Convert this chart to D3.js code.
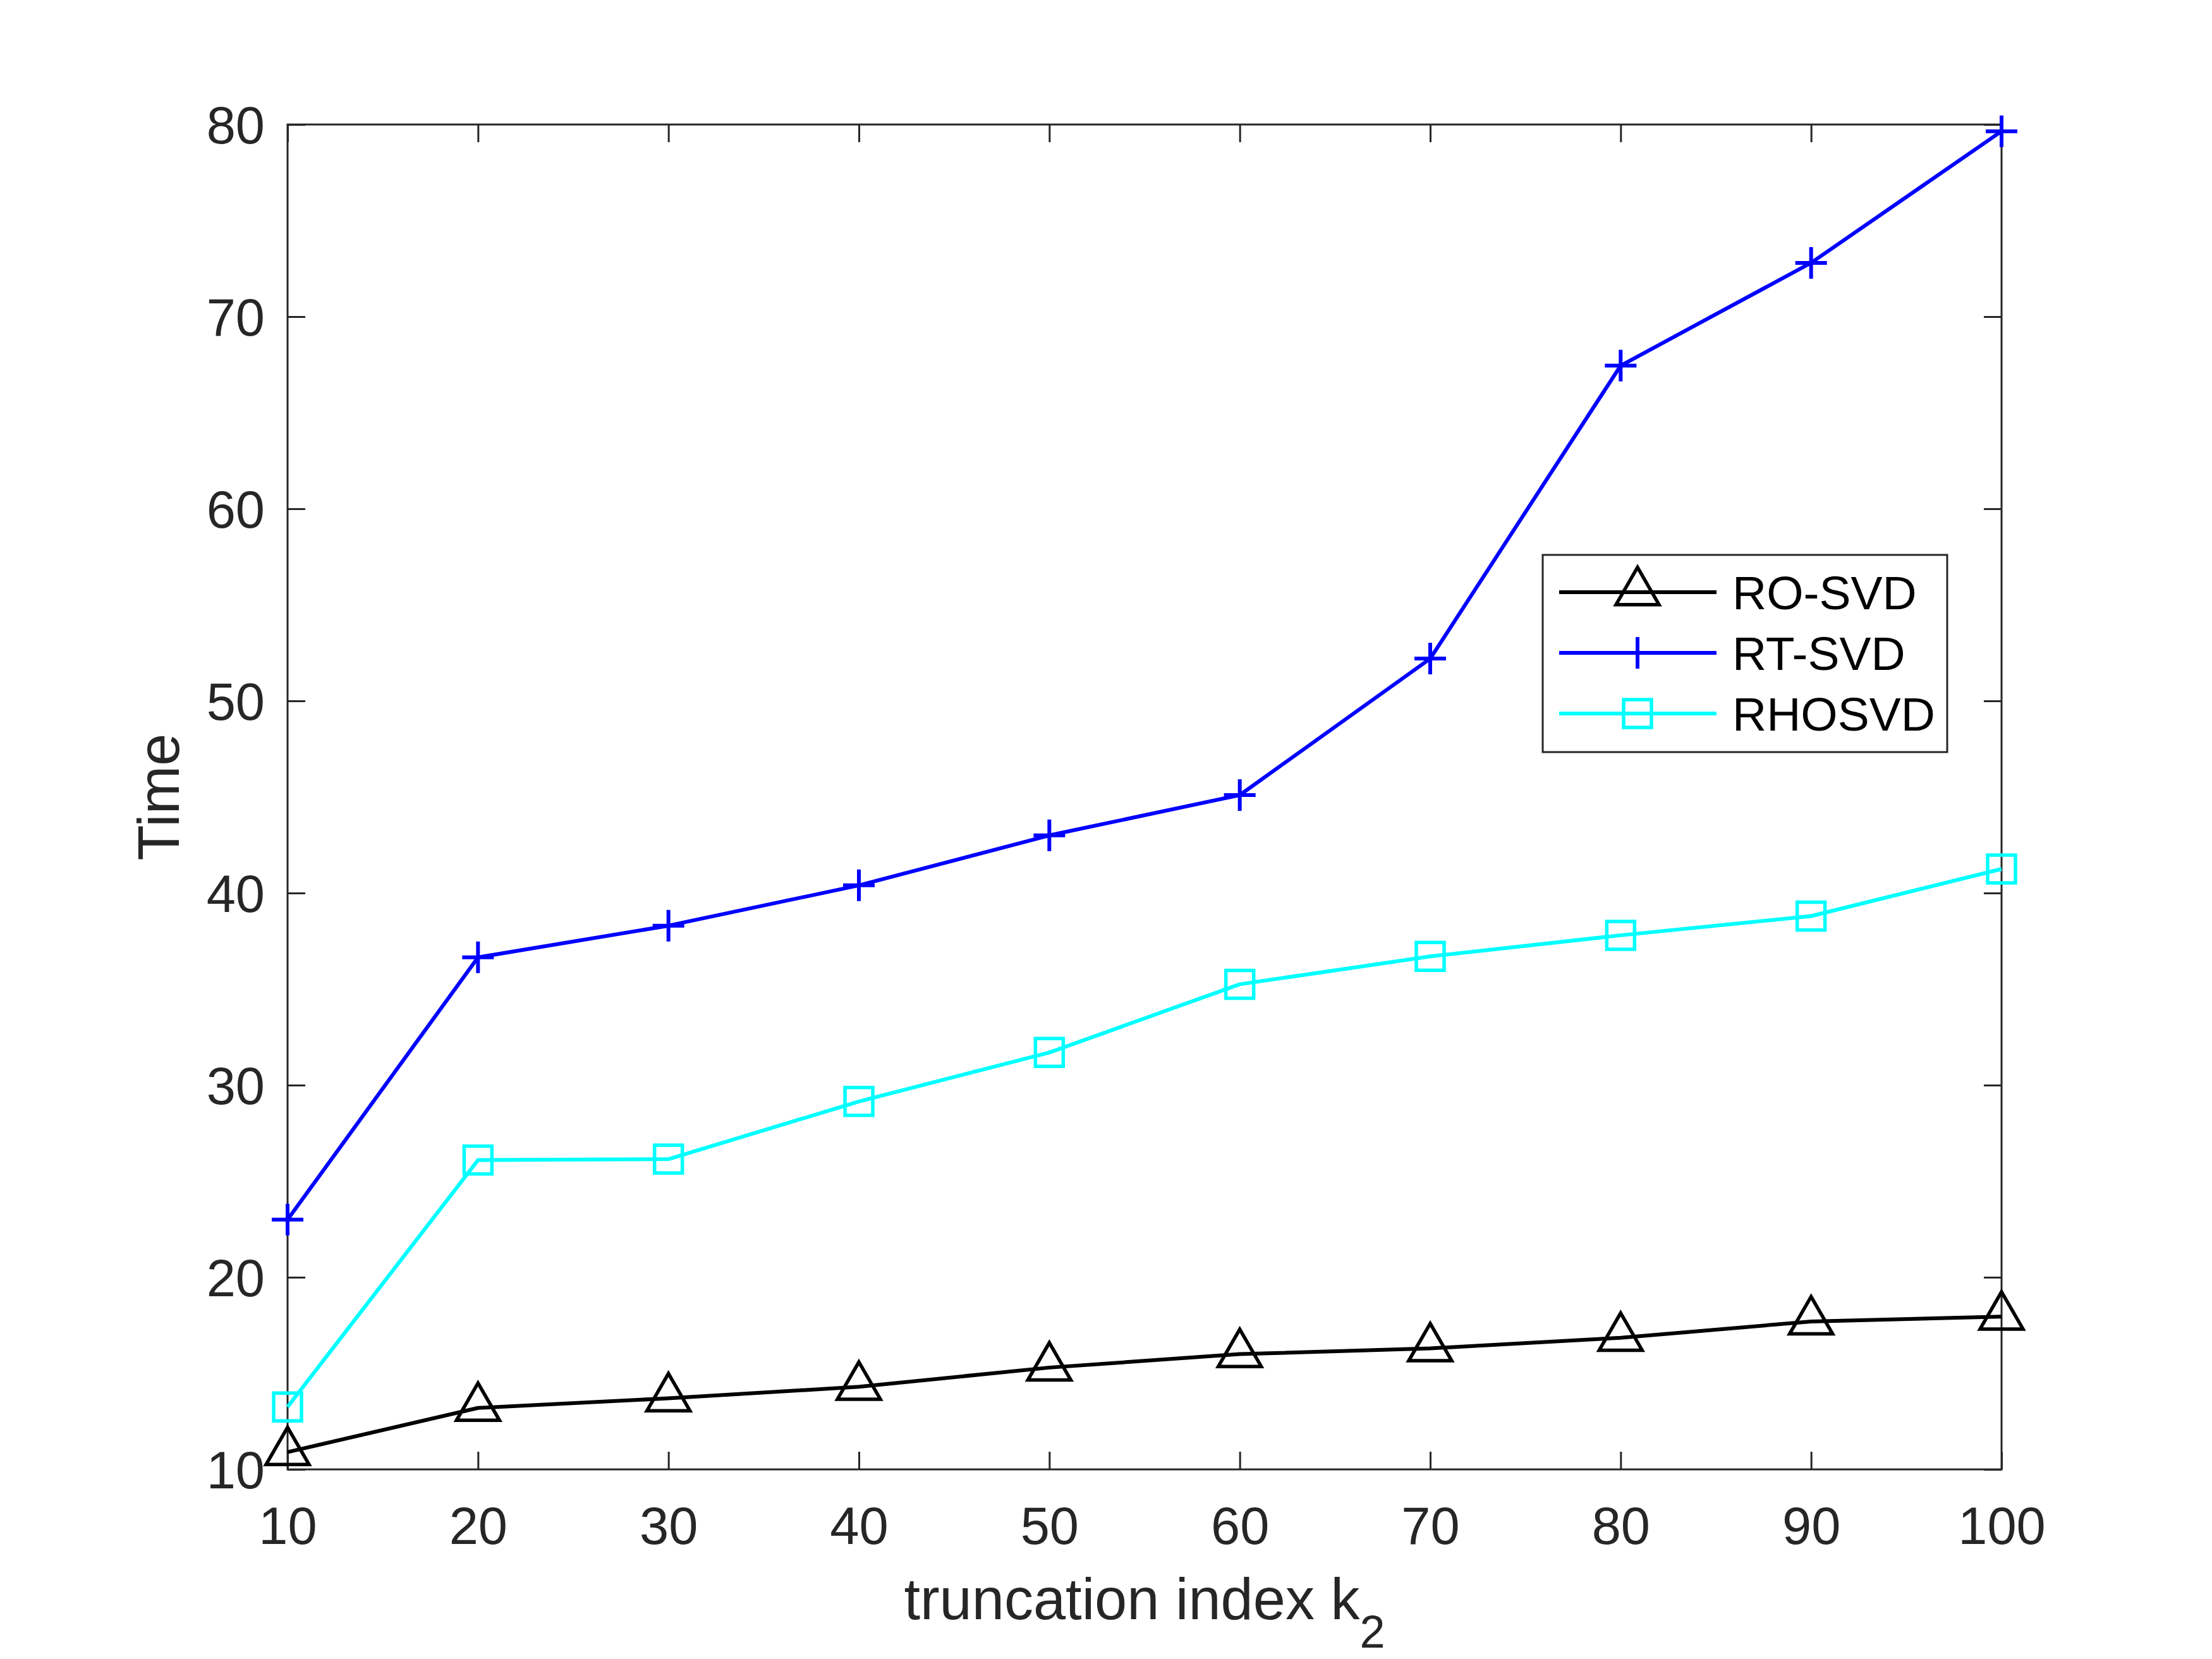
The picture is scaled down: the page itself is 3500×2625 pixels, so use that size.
<!DOCTYPE html>
<html>
<head>
<meta charset="utf-8">
<script src="https://cdn.jsdelivr.net/npm/d3@7"></script>
<style>
html,body{margin:0;padding:0;background:#fff;}
svg{display:block;}
</style>
</head>
<body>
<svg id="chart" width="3500" height="2625"></svg>
<script>
// ---- data ----
const kValues = [10, 20, 30, 40, 50, 60, 70, 80, 90, 100];
const roSVD   = [10.9, 13.2, 13.7, 14.3, 15.3, 16.0, 16.3, 16.85, 17.7, 17.95];
const rtSVD   = [23.0, 36.65, 38.3, 40.4, 43.0, 45.1, 52.2, 67.45, 72.8, 79.65];
const rhoSVD  = [13.25, 26.1, 26.15, 29.15, 31.7, 35.25, 36.7, 37.8, 38.8, 41.25];
const seriesNames = ["RO-SVD", "RT-SVD", "RHOSVD"];
const xTicks = [10, 20, 30, 40, 50, 60, 70, 80, 90, 100];
const yTicks = [10, 20, 30, 40, 50, 60, 70, 80];

const series = [
  {name: seriesNames[0], values: roSVD,  color: "#000000", marker: "triangle"},
  {name: seriesNames[1], values: rtSVD,  color: "#0000ff", marker: "plus"},
  {name: seriesNames[2], values: rhoSVD, color: "#00ffff", marker: "square"}
];

const svg = d3.select("#chart");
const L = 455, R = 3167, T = 197, B = 2325;
const axisColor = "#262626";
const font = "'Liberation Sans', Arial, Helvetica, sans-serif";

const x = d3.scaleLinear().domain([10, 100]).range([L, R]);
const y = d3.scaleLinear().domain([10, 80]).range([B, T]);

// plot background
svg.append("rect").attr("x", L).attr("y", T).attr("width", R - L).attr("height", B - T)
  .attr("fill", "#fff");

// axes with inward ticks on all four sides
const tickLen = 28;
const gx = svg.append("g").attr("transform", `translate(0,${B})`)
  .call(d3.axisBottom(x).tickValues(xTicks).tickSize(-tickLen).tickPadding(58).tickFormat(d3.format("d")));
const gxTop = svg.append("g").attr("transform", `translate(0,${T})`)
  .call(d3.axisTop(x).tickValues(xTicks).tickSize(-tickLen).tickFormat(""));
const gy = svg.append("g").attr("transform", `translate(${L},0)`)
  .call(d3.axisLeft(y).tickValues(yTicks).tickSize(-tickLen).tickPadding(36).tickFormat(d3.format("d")));
const gyRight = svg.append("g").attr("transform", `translate(${R},0)`)
  .call(d3.axisRight(y).tickValues(yTicks).tickSize(-tickLen).tickFormat(""));

[gx, gxTop, gy, gyRight].forEach(g => {
  g.select(".domain").remove();
  g.selectAll(".tick line").attr("stroke", axisColor).attr("stroke-width", 3);
  g.selectAll(".tick text").attr("fill", axisColor).attr("font-family", font).attr("font-size", 83);
});
gx.selectAll(".tick text").attr("dy", 0).attr("y", 0)
  .attr("transform", "translate(0,118)");
gy.selectAll(".tick text").attr("dy", "0.355em");

// box
svg.append("rect").attr("x", L).attr("y", T).attr("width", R - L).attr("height", B - T)
  .attr("fill", "none").attr("stroke", axisColor).attr("stroke-width", 3);

// marker paths
function markerPath(type) {
  if (type === "triangle") {
    const s = 68, h = s * Math.sqrt(3) / 2;
    return `M0,${-2*h/3}L${s/2},${h/3}L${-s/2},${h/3}Z`;
  }
  if (type === "plus") return "M-25,0H25M0,-25V25";
  if (type === "square") return "M-22,-22H22V22H-22Z";
}

const line = d3.line().x((d, i) => x(kValues[i])).y(d => y(d));

series.forEach(s => {
  svg.append("path").datum(s.values)
    .attr("d", line)
    .attr("fill", "none")
    .attr("stroke", s.color)
    .attr("stroke-width", 6)
    .attr("stroke-linejoin", "round");
  svg.append("g").selectAll("path").data(s.values).join("path")
    .attr("transform", (d, i) => `translate(${x(kValues[i])},${y(d)})`)
    .attr("d", markerPath(s.marker))
    .attr("fill", "none")
    .attr("stroke", s.color)
    .attr("stroke-width", s.marker === "plus" ? 6 : 5.5);
});

// legend
const lg = svg.append("g");
lg.append("rect").attr("x", 2441).attr("y", 878).attr("width", 640).attr("height", 312)
  .attr("fill", "#fff").attr("stroke", axisColor).attr("stroke-width", 3);
series.forEach((s, i) => {
  const ry = 937 + i * 96;
  lg.append("line").attr("x1", 2467).attr("x2", 2716).attr("y1", ry).attr("y2", ry)
    .attr("stroke", s.color).attr("stroke-width", 6);
  lg.append("path").attr("transform", `translate(2591,${ry})`)
    .attr("d", markerPath(s.marker)).attr("fill", "none")
    .attr("stroke", s.color).attr("stroke-width", s.marker === "plus" ? 6 : 5.5);
  lg.append("text").attr("x", 2741).attr("y", ry + 27)
    .attr("font-family", font).attr("font-size", 75).attr("fill", "#000")
    .text(s.name);
});

// axis labels
svg.append("text")
  .attr("transform", `translate(283,${(T + B) / 2}) rotate(-90)`)
  .attr("text-anchor", "middle")
  .attr("font-family", font).attr("font-size", 92).attr("fill", axisColor)
  .text("Time");

const xl = svg.append("text")
  .attr("x", (L + R) / 2).attr("y", 2562)
  .attr("text-anchor", "middle")
  .attr("font-family", font).attr("font-size", 92).attr("fill", axisColor);
xl.append("tspan").text("truncation index k");
xl.append("tspan").attr("font-size", 72).attr("dy", 45).text("2");
</script>
</body>
</html>
